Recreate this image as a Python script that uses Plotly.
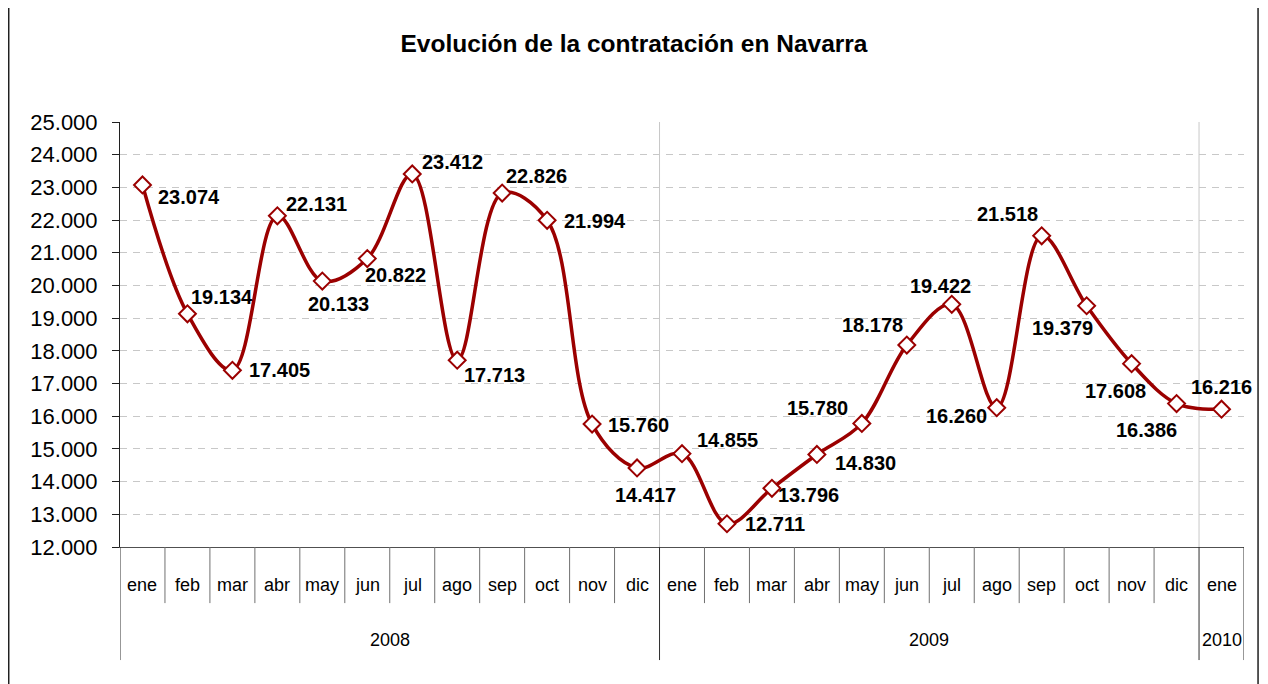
import plotly.graph_objects as go

# ---- data ----
months = ["ene", "feb", "mar", "abr", "may", "jun", "jul", "ago", "sep", "oct", "nov", "dic",
          "ene", "feb", "mar", "abr", "may", "jun", "jul", "ago", "sep", "oct", "nov", "dic",
          "ene"]
years = ["2008", "2009", "2010"]
year_lengths = [12, 12, 1]
contratos = [23074, 19134, 17405, 22131, 20133, 20822, 23412, 17713, 22826, 21994, 15760, 14417,
             14855, 12711, 13796, 14830, 15780, 18178, 19422, 16260, 21518, 19379, 17608, 16386,
             16216]
title_text = "Evolución de la contratación en Navarra"

# ---- label offsets (pixels: dx right, dy down) ----
label_offsets = [(47, 12), (35, -17), (47, 0), (39, -12), (16, 23), (28, 16), (40, -12), (37, 15),
                 (34, -17), (48, 1), (46, 1), (8, 27), (45, -14), (48, 0), (37, 7), (49, 9),
                 (-44, -15), (-34, -20), (-11, -18), (-40, 8), (-34, -22), (-24, 22), (-16, 27),
                 (-30, 26), (0, -22)]

RED = "#9b0000"
xs = list(range(len(contratos)))

fig = go.Figure()
fig.add_trace(go.Scatter(
    x=xs, y=contratos, mode="lines+markers",
    line=dict(color=RED, width=3.5, shape="spline", smoothing=1.0),
    marker=dict(symbol="diamond", size=13, color="white", line=dict(color=RED, width=2)),
    hoverinfo="y", showlegend=False,
))

def fmt(v):
    return f"{v:,}".replace(",", ".")

annotations = []
for i, v in enumerate(contratos):
    dx, dy = label_offsets[i]
    annotations.append(dict(x=i, y=v, xref="x", yref="y", text=fmt(v), showarrow=False,
                            xshift=dx, yshift=-dy, xanchor="center", yanchor="middle",
                            font=dict(family="Liberation Sans, Arial", size=20, color="black",
                                      weight="bold")))

AXFONT = "Liberation Sans, Arial"
# month labels
for i, m in enumerate(months):
    annotations.append(dict(x=i, y=-0.089, xref="x", yref="paper", text=m, showarrow=False,
                            xanchor="center", yanchor="middle",
                            font=dict(family=AXFONT, size=18, color="black")))
# year labels
start = 0
boundaries = [-0.5]
for y, n in zip(years, year_lengths):
    center = start + (n - 1) / 2
    annotations.append(dict(x=center, y=-0.219, xref="x", yref="paper", text=y, showarrow=False,
                            xanchor="center", yanchor="middle",
                            font=dict(family=AXFONT, size=18, color="black")))
    start += n
    boundaries.append(start - 0.5)

shapes = []
# month separators
for i in range(len(months) + 1):
    xb = i - 0.5
    if xb in boundaries:
        continue
    shapes.append(dict(type="line", xref="x", yref="paper", x0=xb, x1=xb, y0=0, y1=-0.132,
                       line=dict(color="#707070", width=1)))
# year separators (full depth)
for xb in boundaries:
    shapes.append(dict(type="line", xref="x", yref="paper", x0=xb, x1=xb, y0=0, y1=-0.266,
                       line=dict(color="#303030", width=1)))
# light vertical lines in plot at year boundaries
for xb in boundaries[1:-1]:
    shapes.append(dict(type="line", xref="x", yref="paper", x0=xb, x1=xb, y0=0, y1=1,
                       line=dict(color="#c8c8c8", width=1), layer="below"))
# outer frame
shapes.append(dict(type="rect", xref="paper", yref="paper", x0=-0.0990, x1=1.0125,
                   y0=-0.36, y1=1.2753, line=dict(color="#202020", width=1.5)))

fig.update_layout(
    width=1260, height=676,
    margin=dict(l=112, r=24, t=114, b=137),
    paper_bgcolor="white", plot_bgcolor="white",
    separators=",.",
    title=dict(text=title_text, x=626 / 1260, xanchor="center", y=1 - 35 / 676, yanchor="middle",
               font=dict(family="Liberation Sans, Arial", size=24.5, color="black", weight="bold")),
    xaxis=dict(range=[-0.5, len(contratos) - 0.5], showticklabels=False, showgrid=False,
               zeroline=False, showline=True, linecolor="#505050", linewidth=1, ticks=""),
    yaxis=dict(range=[12000, 25000], dtick=1000, tickformat=",d", showgrid=True,
               gridcolor="#c8c8c8", griddash="7px,6px", gridwidth=1, zeroline=False,
               showline=True, linecolor="#202020", linewidth=1, ticks="outside", ticklen=7,
               tickcolor="#202020", ticklabelstandoff=10,
               tickfont=dict(family="Liberation Sans, Arial", size=22, color="black")),
    annotations=annotations, shapes=shapes,
)

fig.write_html("out.html")
